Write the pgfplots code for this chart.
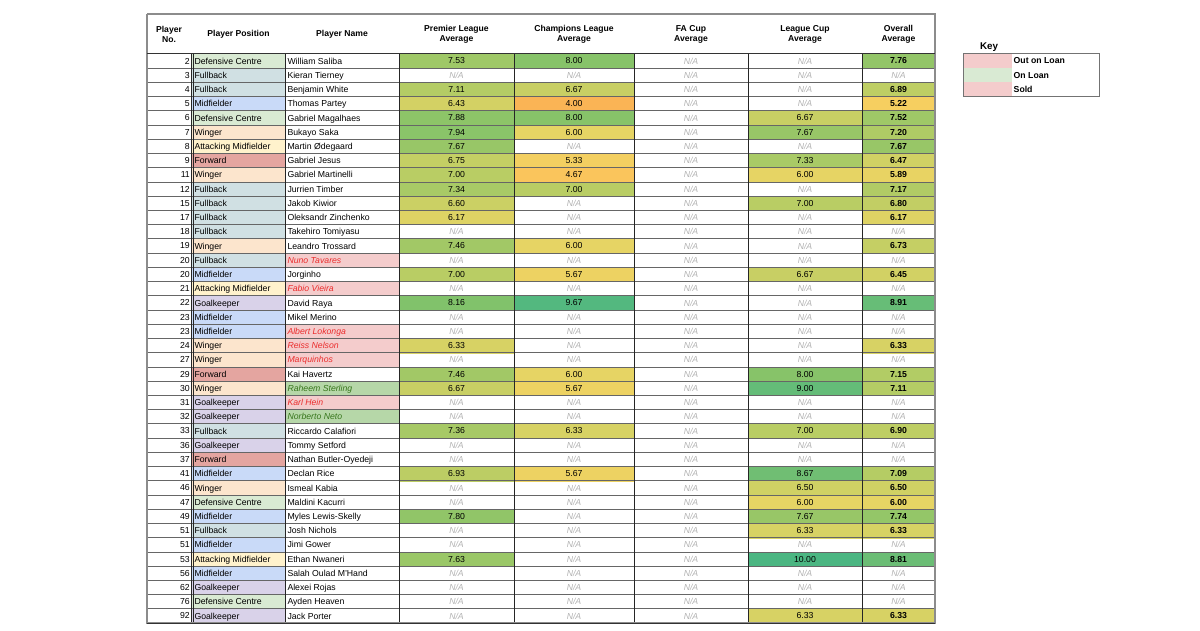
\documentclass[border=0pt]{standalone}
\usepackage{fontspec}
\setmainfont{Liberation Sans}
\usepackage{pgfplots}
\usepackage{pgfplotstable}
\pgfplotsset{compat=1.18}

\definecolor{pcDC}{RGB}{217,234,211}
\definecolor{pcFB}{RGB}{208,224,227}
\definecolor{pcMF}{RGB}{201,218,248}
\definecolor{pcWG}{RGB}{252,229,205}
\definecolor{pcAM}{RGB}{255,242,204}
\definecolor{pcFW}{RGB}{228,165,160}
\definecolor{pcGK}{RGB}{217,210,233}
\definecolor{nfN}{RGB}{255,255,255}
\definecolor{nfR}{RGB}{244,204,204}
\definecolor{nfG}{RGB}{182,215,168}
\definecolor{nfK}{RGB}{217,234,211}
\definecolor{ntN}{RGB}{0,0,0}
\definecolor{ntR}{RGB}{235,45,45}
\definecolor{ntG}{RGB}{56,118,29}
\def\ftN{}\def\ftR{\itshape}\def\ftG{\itshape}
\newcommand\cf{\fontsize{8.7bp}{10bp}\selectfont}
\newcommand\cstrut{\rule[-1.9bp]{0pt}{10bp}}
\setlength\fboxsep{0pt}
% position cell, name cell, key swatch
\protected\def\PC#1#2{\colorbox{pc#1}{\parbox[c][14.23bp][c]{93bp}{\hspace*{2.5bp}\cstrut#2}}}
\protected\def\NM#1#2{\colorbox{nf#1}{\parbox[c][14.23bp][c]{114bp}{\hspace*{2.5bp}\cstrut\color{nt#1}\csname ft#1\endcsname #2}}}
\protected\def\KS#1{\colorbox{nf#1}{\parbox[c][14.23bp][c]{49bp}{\mbox{}}}}

\pgfplotstableread[col sep=comma]{
row,no,pos,name
1,2,\PC{DC}{Defensive Centre},\NM{N}{William Saliba}
2,3,\PC{FB}{Fullback},\NM{N}{Kieran Tierney}
3,4,\PC{FB}{Fullback},\NM{N}{Benjamin White}
4,5,\PC{MF}{Midfielder},\NM{N}{Thomas Partey}
5,6,\PC{DC}{Defensive Centre},\NM{N}{Gabriel Magalhaes}
6,7,\PC{WG}{Winger},\NM{N}{Bukayo Saka}
7,8,\PC{AM}{Attacking Midfielder},\NM{N}{Martin Ødegaard}
8,9,\PC{FW}{Forward},\NM{N}{Gabriel Jesus}
9,11,\PC{WG}{Winger},\NM{N}{Gabriel Martinelli}
10,12,\PC{FB}{Fullback},\NM{N}{Jurrien Timber}
11,15,\PC{FB}{Fullback},\NM{N}{Jakob Kiwior}
12,17,\PC{FB}{Fullback},\NM{N}{Oleksandr Zinchenko}
13,18,\PC{FB}{Fullback},\NM{N}{Takehiro Tomiyasu}
14,19,\PC{WG}{Winger},\NM{N}{Leandro Trossard}
15,20,\PC{FB}{Fullback},\NM{R}{Nuno Tavares}
16,20,\PC{MF}{Midfielder},\NM{N}{Jorginho}
17,21,\PC{AM}{Attacking Midfielder},\NM{R}{Fabio Vieira}
18,22,\PC{GK}{Goalkeeper},\NM{N}{David Raya}
19,23,\PC{MF}{Midfielder},\NM{N}{Mikel Merino}
20,23,\PC{MF}{Midfielder},\NM{R}{Albert Lokonga}
21,24,\PC{WG}{Winger},\NM{R}{Reiss Nelson}
22,27,\PC{WG}{Winger},\NM{R}{Marquinhos}
23,29,\PC{FW}{Forward},\NM{N}{Kai Havertz}
24,30,\PC{WG}{Winger},\NM{G}{Raheem Sterling}
25,31,\PC{GK}{Goalkeeper},\NM{R}{Karl Hein}
26,32,\PC{GK}{Goalkeeper},\NM{G}{Norberto Neto}
27,33,\PC{FB}{Fullback},\NM{N}{Riccardo Calafiori}
28,36,\PC{GK}{Goalkeeper},\NM{N}{Tommy Setford}
29,37,\PC{FW}{Forward},\NM{N}{Nathan Butler-Oyedeji}
30,41,\PC{MF}{Midfielder},\NM{N}{Declan Rice}
31,46,\PC{WG}{Winger},\NM{N}{Ismeal Kabia}
32,47,\PC{DC}{Defensive Centre},\NM{N}{Maldini Kacurri}
33,49,\PC{MF}{Midfielder},\NM{N}{Myles Lewis-Skelly}
34,51,\PC{FB}{Fullback},\NM{N}{Josh Nichols}
35,51,\PC{MF}{Midfielder},\NM{N}{Jimi Gower}
36,53,\PC{AM}{Attacking Midfielder},\NM{N}{Ethan Nwaneri}
37,56,\PC{MF}{Midfielder},\NM{N}{Salah Oulad M'Hand}
38,62,\PC{GK}{Goalkeeper},\NM{N}{Alexei Rojas}
39,76,\PC{DC}{Defensive Centre},\NM{N}{Ayden Heaven}
40,92,\PC{GK}{Goalkeeper},\NM{N}{Jack Porter}
}\players

% Premier League averages
\pgfplotstableread{
row v
1 7.53
3 7.11
4 6.43
5 7.88
6 7.94
7 7.67
8 6.75
9 7.00
10 7.34
11 6.60
12 6.17
14 7.46
16 7.00
18 8.16
21 6.33
23 7.46
24 6.67
27 7.36
30 6.93
33 7.80
36 7.63
}\tPL

% Champions League averages
\pgfplotstableread{
row v
1 8.00
3 6.67
4 4.00
5 8.00
6 6.00
8 5.33
9 4.67
10 7.00
14 6.00
16 5.67
18 9.67
23 6.00
24 5.67
27 6.33
30 5.67
}\tCL

% League Cup averages
\pgfplotstableread{
row v
5 6.67
6 7.67
8 7.33
9 6.00
11 7.00
16 6.67
23 8.00
24 9.00
27 7.00
30 8.67
31 6.50
32 6.00
33 7.67
34 6.33
36 10.00
40 6.33
}\tLC

% Overall averages
\pgfplotstableread{
row v
1 7.76
3 6.89
4 5.22
5 7.52
6 7.20
7 7.67
8 6.47
9 5.89
10 7.17
11 6.80
12 6.17
14 6.73
16 6.45
18 8.91
21 6.33
23 7.15
24 7.11
27 6.90
30 7.09
31 6.50
32 6.00
33 7.74
34 6.33
36 8.81
40 6.33
}\tOV

% rows shown as N/A in each column
\pgfplotstableread{
row
2
13
15
17
19
20
22
25
26
28
29
31
32
34
35
37
38
39
40
}\naPL
\pgfplotstableread{
row
2
7
11
12
13
15
17
19
20
21
22
25
26
28
29
31
32
33
34
35
36
37
38
39
40
}\naCL
\pgfplotstableread{
row
1
2
3
4
7
10
12
13
14
15
17
18
19
20
21
22
25
26
28
29
35
37
38
39
}\naLC
\pgfplotstableread{
row
2
13
15
17
19
20
22
25
26
28
29
35
37
38
39
}\naOV

\pgfplotstableread[col sep=comma]{
row,sw,label
1,\KS{R},Out on Loan
2,\KS{K},On Loan
3,\KS{R},Sold
}\keytab

\begin{document}
\begin{tikzpicture}
\begin{axis}[
  set layers=standard,
  width=1200bp, height=630bp, scale only axis,
  xmin=0, xmax=1200, ymin=-3.2867, ymax=40.986, y dir=reverse,
  hide axis, clip=false,
  colormap={tbl}{rgb255=(250,180,85) rgb255=(250,205,95) rgb255=(230,212,100) rgb255=(185,205,100) rgb255=(135,195,105) rgb255=(100,188,120) rgb255=(75,182,130)},
  point meta min=4, point meta max=10,
  valfill/.style={scatter, only marks, mark=square*, mark size=7.115bp,
    scatter/use mapped color={draw=mapped color, fill=mapped color},
    point meta=explicit},
  valtext/.style={only marks, mark=none, point meta=explicit,
    nodes near coords={\pgfmathprintnumber[fixed,fixed zerofill,precision=2,assume math mode=true]{\pgfplotspointmeta}},
    every node near coord/.append style={anchor=center, text=black, font=\cf}},
  nacell/.style={only marks, mark=none, nodes near coords={N/A},
    every node near coord/.append style={anchor=center, text=black!30, font=\cf\itshape}},
  txtcell/.style={only marks, mark=none, point meta=explicit symbolic,
    nodes near coords={\pgfplotspointmeta},
    every node near coord/.append style={anchor=center, text=black, inner sep=0pt, font=\cf}},
  hline/.style={on layer=axis foreground, black!60, line width=0.8bp},
  vline/.style={on layer=axis foreground, black!85, line width=0.8bp},
]
\addplot[draw=none] coordinates {(0,-3.2867) (1200,40.986)};

% player numbers
\addplot[txtcell, every node near coord/.append style={anchor=east}]
  table[x expr=190, y=row, meta=no]{\players};
% positions
\addplot[txtcell] table[x expr=238.5, y=row, meta=pos]{\players};
% names
\addplot[txtcell] table[x expr=342, y=row, meta=name]{\players};

% coloured value cells
\addplot[valfill, mark options={xscale=8.08}] table[x expr=456.5, y=row, meta=v]{\tPL};
\addplot[valfill, mark options={xscale=8.433}] table[x expr=574, y=row, meta=v]{\tCL};
\addplot[valfill, mark options={xscale=8.011}] table[x expr=805, y=row, meta=v]{\tLC};
\addplot[valfill, mark options={xscale=5.13}] table[x expr=898.5, y=row, meta=v]{\tOV};

% value texts
\addplot[valtext] table[x expr=456.5, y=row, meta=v]{\tPL};
\addplot[valtext] table[x expr=574, y=row, meta=v]{\tCL};
\addplot[valtext] table[x expr=805, y=row, meta=v]{\tLC};
\addplot[valtext, every node near coord/.append style={font=\cf\bfseries}] table[x expr=898.5, y=row, meta=v]{\tOV};

% N/A cells
\addplot[nacell] table[x expr=456.5, y=row]{\naPL};
\addplot[nacell] table[x expr=574, y=row]{\naCL};
\addplot[nacell] table[x expr=691, y=row]{\players};
\addplot[nacell] table[x expr=805, y=row]{\naLC};
\addplot[nacell] table[x expr=898.5, y=row]{\naOV};

% grid lines
\pgfplotsinvokeforeach{0,...,39}{
  \addplot[hline] coordinates {(147,#1.5) (935,#1.5)};
}
\addplot[vline, line width=0.6bp] coordinates {(190.9,0.5) (190.9,40.5)};
\addplot[vline, line width=0.6bp] coordinates {(193.1,0.5) (193.1,40.5)};
\addplot[vline] coordinates {(285,0.5) (285,40.5)};
\addplot[vline] coordinates {(399,0.5) (399,40.5)};
\addplot[vline] coordinates {(514,0.5) (514,40.5)};
\addplot[vline] coordinates {(634,0.5) (634,40.5)};
\addplot[vline] coordinates {(748,0.5) (748,40.5)};
\addplot[vline] coordinates {(862,0.5) (862,40.5)};
\addplot[on layer=axis foreground, black!45, line width=1.3bp] coordinates {(147,-2.303) (935,-2.303) (935,40.5) (147,40.5) (147,-2.303)};
\addplot[on layer=axis foreground, black!80, line width=1bp] coordinates {(147,40.5) (935,40.5)};
\addplot[on layer=axis foreground, black!80, line width=1bp] coordinates {(147,0.5) (935,0.5)};

% header
\begin{scope}[every node/.style={font=\bfseries\fontsize{8.6bp}{10.5bp}\selectfont, align=center}]
\node at (axis cs:169,-0.87) {Player\\No.};
\node at (axis cs:238.5,-0.87) {Player Position};
\node at (axis cs:342,-0.87) {Player Name};
\node at (axis cs:456.5,-0.87) {Premier League\\Average};
\node at (axis cs:574,-0.87) {Champions League\\Average};
\node at (axis cs:691,-0.87) {FA Cup\\Average};
\node at (axis cs:805,-0.87) {League Cup\\Average};
\node at (axis cs:898.5,-0.87) {Overall\\Average};
\end{scope}

% key
\node[font=\bfseries\fontsize{9.8bp}{11bp}\selectfont, anchor=west] at (axis cs:976.5,0.02) {Key};
\addplot[txtcell] table[x expr=987.5, y=row, meta=sw]{\keytab};
\addplot[txtcell, every node near coord/.append style={anchor=west, inner xsep=1.5bp, font=\cf\bfseries}]
  table[x expr=1012, y=row, meta=label]{\keytab};
\addplot[on layer=axis foreground, black!55, line width=0.9bp] coordinates {(963,0.5) (1099,0.5) (1099,3.5) (963,3.5) (963,0.5)};
\end{axis}
\end{tikzpicture}
\end{document}
